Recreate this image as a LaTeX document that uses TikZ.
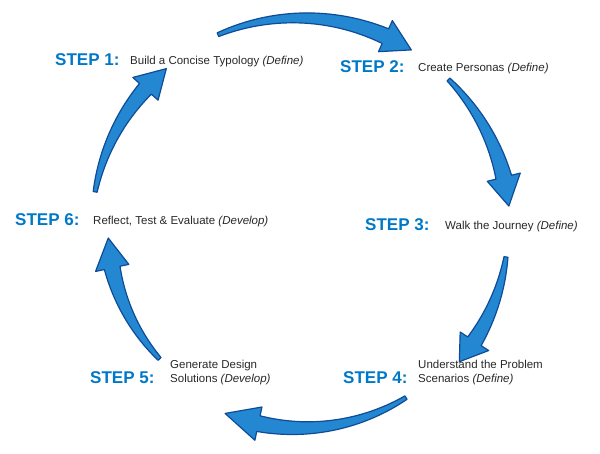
\documentclass[tikz,border=0pt]{standalone}
\usepackage{fontspec}
\setmainfont{Liberation Sans}
\definecolor{stepblue}{RGB}{0,120,200}
\definecolor{arrowdark}{RGB}{15,75,150}
\definecolor{arrowlight}{RGB}{35,135,210}
\definecolor{bodytext}{RGB}{40,40,40}
\tikzset{
  stepfont/.style={font=\fontsize{17}{17}\selectfont\bfseries, text=stepblue, anchor=base west, inner sep=0pt},
  bodyfont/.style={font=\fontsize{11.5}{14}\selectfont, text=bodytext, anchor=base west, inner sep=0pt, align=left},
  arrowbody/.style={fill=arrowlight, draw=arrowdark, line width=1.2pt, line join=round}
}
% #1 start angle, #2 end angle (body), #3 radius, #4 tip angle
\newcommand{\cycarrow}[4]{%
  \path[arrowbody]
    plot[domain=#1:#2,samples=30,variable=\t]
      ({300+(#3+2+6*(\t-#1)/(#2-#1))*cos(\t)},{226+(#3+2+6*(\t-#1)/(#2-#1))*sin(\t)})
    -- ({300+(#3+17)*cos(#2)},{226+(#3+17)*sin(#2)})
    -- ({300+#3*cos(#4)},{226+#3*sin(#4)})
    -- ({300+(#3-17)*cos(#2)},{226+(#3-17)*sin(#2)})
    -- plot[domain=#2:#1,samples=30,variable=\t]
      ({300+(#3-2-6*(\t-#1)/(#2-#1))*cos(\t)},{226+(#3-2-6*(\t-#1)/(#2-#1))*sin(\t)})
    -- cycle;
}
\begin{document}
\begin{tikzpicture}[x=1pt,y=1pt]
\useasboundingbox (0,0) rectangle (600,454);
\coordinate (c) at (300,226);
\cycarrow{113}{66}{210}{58}
\cycarrow{45}{14}{210}{6}
\cycarrow{-8}{-33}{208}{-40}
\cycarrow{-58}{-102}{200}{-112}
\cycarrow{-137}{-168}{192}{-177}
\cycarrow{170}{138}{208}{130}
\node[stepfont] (s1) at (55,388) {STEP 1:};
\node[bodyfont] (t1) at (130,389) {Build a Concise Typology \textit{(Define)}};
\node[stepfont] (s2) at (340,381) {STEP 2:};
\node[bodyfont] (t2) at (418,382) {Create Personas \textit{(Define)}};
\node[stepfont] (s3) at (365,223) {STEP 3:};
\node[bodyfont] (t3) at (445,224) {Walk the Journey \textit{(Define)}};
\node[stepfont] (s4) at (343,70) {STEP 4:};
\node[bodyfont] (t4) at (418,71) {Understand the Problem\\Scenarios \textit{(Define)}};
\node[stepfont] (s5) at (90,70) {STEP 5:};
\node[bodyfont] (t5) at (170,71) {Generate Design\\Solutions \textit{(Develop)}};
\node[stepfont] (s6) at (15,228) {STEP 6:};
\node[bodyfont] (t6) at (93,229) {Reflect, Test \& Evaluate \textit{(Develop)}};
\end{tikzpicture}
\end{document}
